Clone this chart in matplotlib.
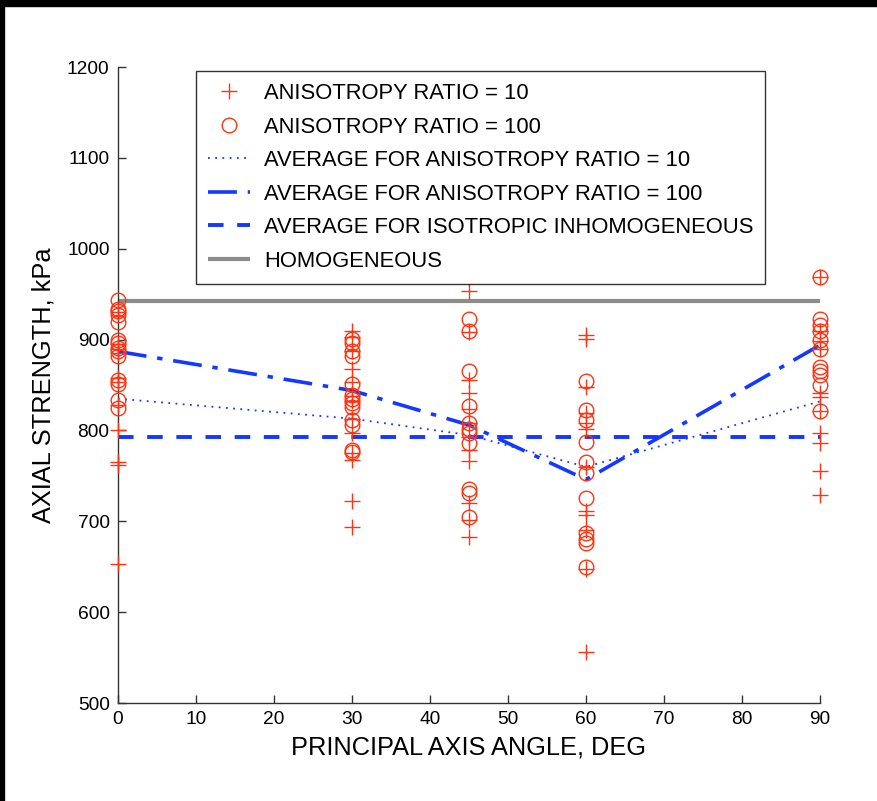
import matplotlib
matplotlib.use("Agg")
import matplotlib.pyplot as plt
from matplotlib.patches import Rectangle

plt.rcParams['font.family'] = ['Liberation Sans', 'DejaVu Sans']

# Principal axis angles (deg)
angles = [0, 30, 45, 60, 90]

# Axial strength samples, anisotropy ratio = 10 (kPa)
ratio10 = {
    0: [930, 895, 890, 885, 858, 853, 828, 800, 765, 762, 653],
    30: [910, 903, 887, 868, 853, 838, 832, 813, 797, 775, 767, 722, 694],
    45: [953, 908, 855, 841, 824, 808, 793, 778, 766, 720, 701, 683],
    60: [905, 901, 848, 819, 808, 802, 760, 711, 707, 690, 648, 556],
    90: [969, 909, 898, 890, 841, 837, 821, 797, 786, 755, 729],
}

# Axial strength samples, anisotropy ratio = 100 (kPa)
ratio100 = {
    0: [944, 934, 931, 927, 919, 900, 896, 891, 887, 882, 856, 851, 834, 825],
    30: [901, 896, 887, 882, 851, 839, 835, 830, 826, 811, 806, 779, 776],
    45: [923, 909, 866, 827, 808, 802, 797, 786, 736, 731, 705],
    60: [854, 822, 812, 787, 765, 753, 726, 687, 681, 676, 650],
    90: [969, 923, 916, 910, 900, 890, 870, 866, 861, 850, 821],
}

# Averages per angle
avg_ratio10 = [835, 813, 795, 760, 832]
avg_ratio100 = [887, 844, 806, 746, 894]
avg_isotropic = 793
homogeneous = 943

red = '#FF3311'
blue = '#1438FF'
grey = '#8C8C8C'

fig = plt.figure(figsize=(8.77, 8.01), dpi=100)
ax = fig.add_axes([0.1345, 0.1223, 0.8005, 0.794])

first = True
for a in angles:
    ax.plot([a] * len(ratio10[a]), ratio10[a], linestyle='none', marker='+',
            color=red, markersize=11, markeredgewidth=1.0,
            label='ANISOTROPY RATIO = 10' if first else None, clip_on=False, zorder=3)
    first = False
first = True
for a in angles:
    ax.plot([a] * len(ratio100[a]), ratio100[a], linestyle='none', marker='o',
            markerfacecolor='none', color=red, markersize=10.5, markeredgewidth=1.0,
            label='ANISOTROPY RATIO = 100' if first else None, clip_on=False, zorder=3)
    first = False

ax.plot(angles, avg_ratio10, color=blue, linestyle=(0, (1, 3)), linewidth=1.3,
        label='AVERAGE FOR ANISOTROPY RATIO = 10')
ax.plot(angles, avg_ratio100, color=blue, linestyle=(0, (8, 3, 1.5, 3)), linewidth=2.6,
        label='AVERAGE FOR ANISOTROPY RATIO = 100')
ax.plot([angles[0], angles[-1]], [avg_isotropic, avg_isotropic], color=blue,
        linestyle=(0, (4, 3.5)), linewidth=2.8,
        label='AVERAGE FOR ISOTROPIC INHOMOGENEOUS')
ax.plot([angles[0], angles[-1]], [homogeneous, homogeneous], color=grey,
        linewidth=3, solid_capstyle='butt', label='HOMOGENEOUS')

ax.set_xlim(0, 90)
ax.set_ylim(500, 1200)
ax.set_xticks(range(0, 91, 10))
ax.set_yticks(range(500, 1201, 100))
for s in ('top', 'right'):
    ax.spines[s].set_visible(False)
for s in ('left', 'bottom'):
    ax.spines[s].set_color('#333333')
    ax.spines[s].set_linewidth(1.0)
ax.tick_params(direction='in', length=6, width=1, labelsize=13.8, color='#333333',
               pad=6)
ax.set_xlabel('PRINCIPAL AXIS ANGLE, DEG', fontsize=18.3, labelpad=5)
ax.set_ylabel('AXIAL STRENGTH, kPa', fontsize=18.3, labelpad=8)

leg = ax.legend(loc='upper left', bbox_to_anchor=(0.111, 0.9937), fontsize=15.8,
                frameon=True, fancybox=False, handlelength=1.9, handletextpad=0.65,
                labelspacing=0.57, borderpad=0.55, borderaxespad=0)
leg.get_frame().set_edgecolor('black')
leg.get_frame().set_linewidth(1.0)

# Black border along the top and left edges of the canvas
fig.patches.append(Rectangle((0, 1 - 6 / 801), 1, 6 / 801, transform=fig.transFigure,
                             color='black', zorder=10))
fig.patches.append(Rectangle((0, 0), 4 / 877, 1, transform=fig.transFigure,
                             color='black', zorder=10))

fig.savefig('out.png', dpi=100)
